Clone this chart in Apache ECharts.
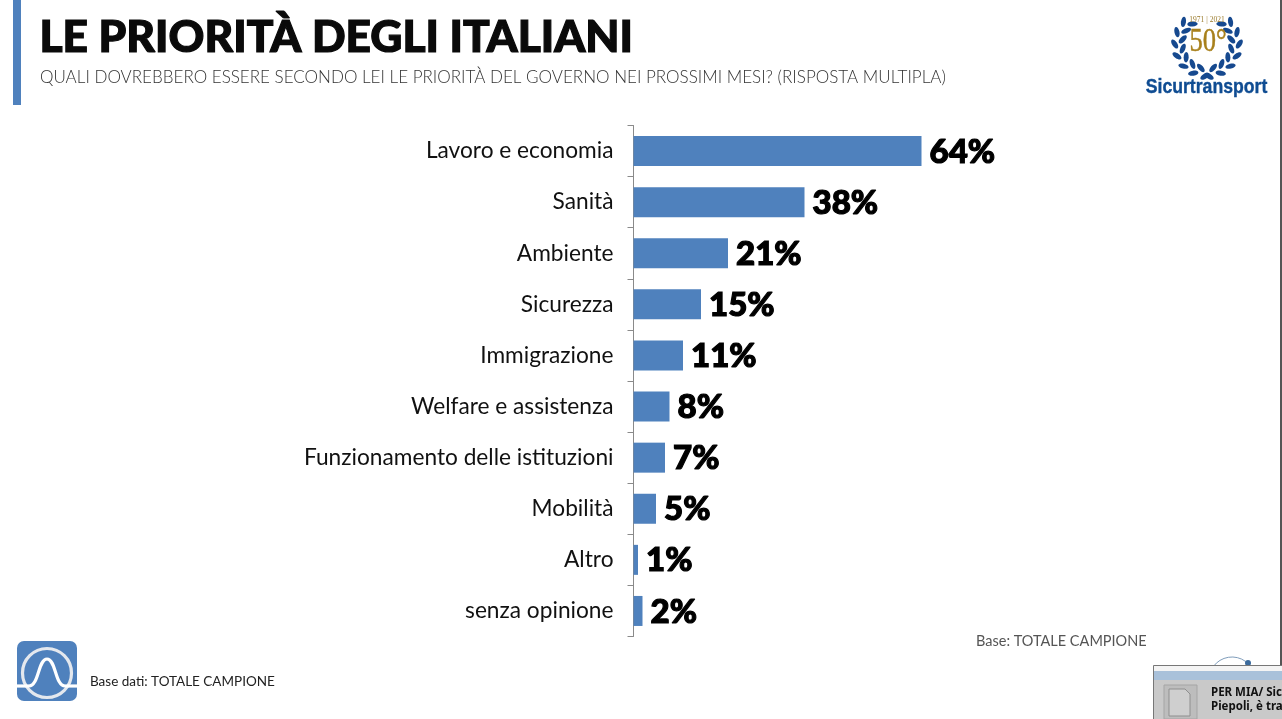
<!DOCTYPE html>
<html><head><meta charset="utf-8">
<style>html,body{margin:0;padding:0;background:#fff}#c{width:1282px;height:719px}</style>
<script src="https://cdn.jsdelivr.net/npm/echarts@6/dist/echarts.min.js"></script>
</head><body><div id="c"></div>
<script>
const categories = ["Lavoro e economia","Sanità","Ambiente","Sicurezza","Immigrazione","Welfare e assistenza","Funzionamento delle istituzioni","Mobilità","Altro","senza opinione"];
const values = [64,38,21,15,11,8,7,5,1,2];
const titleText = "LE PRIORITÀ DEGLI ITALIANI";
const subtitleText = "QUALI DOVREBBERO ESSERE SECONDO LEI LE PRIORITÀ DEL GOVERNO NEI PROSSIMI MESI? (RISPOSTA MULTIPLA)";
const BLUE = "#4f81bd";

function wreathLeaves(){
  const out=[];
  const cx=1207,cy=44,r=28.5;
  for(const side of [-1,1]){
    for(let i=0;i<14;i++){
      const a=(-54+i*10.8)*Math.PI/180;
      const off=i%2?3.8:-3.8;
      const x=cx+side*(r+off)*Math.cos(a), y=cy+(r+off)*Math.sin(a);
      const tilt=(i%2?0.6:-0.6);
      out.push({type:'ellipse',shape:{cx:0,cy:0,rx:2.5,ry:5.2},x:x,y:y,rotation:-side*(a+tilt),style:{fill:'#16498f'},z:5});
    }
  }
  return out;
}
const decor = [
  {type:'rect',shape:{x:13,y:0,width:8,height:105},style:{fill:BLUE}},
  {type:'text',x:40,y:78,style:{text:subtitleText,font:'300 17.05px Lato',fill:'#333',textVerticalAlign:'middle'}},
  {type:'rect',shape:{x:1280,y:0,width:2,height:665},style:{fill:'#555'}},
  {type:'text',x:976,y:641,style:{text:'Base: TOTALE CAMPIONE',font:'14.5px Lato',fill:'#555',textVerticalAlign:'middle'}},
  {type:'text',x:90,y:682,style:{text:'Base dati: TOTALE CAMPIONE',font:'13.5px Lato',fill:'#222',textVerticalAlign:'middle'}},
  {type:'rect',shape:{x:17,y:641,width:60,height:60,r:7},style:{fill:BLUE}},
  {type:'circle',shape:{cx:47,cy:673,r:24.5},style:{fill:'none',stroke:'#e4e8ee',lineWidth:3.2}},
  {type:'line',shape:{x1:17,y1:686,x2:29,y2:686},style:{stroke:'#fff',lineWidth:3.2}},
  {type:'line',shape:{x1:65,y1:686,x2:77,y2:686},style:{stroke:'#fff',lineWidth:3.2}},
  {type:'bezierCurve',shape:{x1:29,y1:686,cpx1:39,cpy1:686,cpx2:38,cpy2:659,x2:47,y2:659},style:{fill:'none',stroke:'#fff',lineWidth:3.2}},
  {type:'bezierCurve',shape:{x1:47,y1:659,cpx1:56,cpy1:659,cpx2:55,cpy2:686,x2:65,y2:686},style:{fill:'none',stroke:'#fff',lineWidth:3.2}},
  ...wreathLeaves(),
  {type:'text',x:1207,y:20,style:{text:'1971 | 2021',font:'7.5px "Liberation Serif"',fill:'#9a7a2a',textAlign:'center',textVerticalAlign:'middle'},z:6},
  {type:'text',x:1208,y:42,scaleX:0.78,style:{text:'50°',font:'34px "Liberation Serif"',fill:'#a8801c',textAlign:'center',textVerticalAlign:'middle',stroke:'#a8801c',lineWidth:0.5},z:6},
  {type:'text',x:1206.5,y:87,scaleX:0.84,style:{text:'Sicurtransport',font:'bold 21px "Liberation Sans"',fill:'#0f4c92',textAlign:'center',textVerticalAlign:'middle',stroke:'#0f4c92',lineWidth:0.4},z:6},
  {type:'arc',shape:{cx:1232,cy:680,r:23,startAngle:Math.PI*1.2,endAngle:Math.PI*1.8},style:{fill:'none',stroke:'#7f9dbb',lineWidth:1}},
  {type:'circle',shape:{cx:1248,cy:663,r:3},style:{fill:'#3b6a9c'}},
  {type:'rect',shape:{x:1153.5,y:665.5,width:129,height:54},style:{fill:'#f4f4f4',stroke:'#777',lineWidth:1},z:8},
  {type:'rect',shape:{x:1154,y:671,width:128,height:9},style:{fill:'#a9c1da'},z:9},
  {type:'rect',shape:{x:1154,y:680,width:128,height:39},style:{fill:'#c9c9c9'},z:9},
  {type:'rect',shape:{x:1164,y:685,width:33,height:34},style:{fill:'#bdbdbd',stroke:'#a5a5a5',lineWidth:1},z:10},
  {type:'polygon',shape:{points:[[1169,689],[1185,689],[1190,694],[1190,716],[1169,716]]},style:{fill:'#cfcfcf',stroke:'#8f8f8f',lineWidth:1},z:11},
  {type:'text',x:1211,y:693,style:{text:'PER MIA/ Sic',font:'bold 11.5px "Noto Sans"',fill:'#111',textVerticalAlign:'middle'},z:11},
  {type:'text',x:1211,y:707,style:{text:'Piepoli, è tra',font:'bold 11.5px "Noto Sans"',fill:'#111',textVerticalAlign:'middle'},z:11}
];
const chart = echarts.init(document.getElementById('c'),null,{renderer:'canvas'});
chart.setOption({
  animation:false,
  backgroundColor:'#fff',
  title:{text:titleText,left:39.5,top:16,padding:0,textStyle:{fontFamily:'Lato',fontWeight:900,fontSize:44.3,color:'#0a0a0a',textBorderColor:'#0a0a0a',textBorderWidth:1.2}},
  grid:{left:633.5,top:125.5,width:450,height:511,containLabel:false},
  xAxis:{type:'value',min:0,max:100,show:false},
  yAxis:{type:'category',data:categories,inverse:true,
    axisLine:{show:true,lineStyle:{color:'#8a8a8a',width:1}},
    axisTick:{show:true,length:6,alignWithLabel:false,lineStyle:{color:'#8a8a8a'}},
    axisLabel:{margin:20,fontFamily:'Lato',fontSize:22.7,color:'#111',verticalAlign:'middle',padding:[0,0,5,0]}},
  series:[{type:'bar',data:values,barWidth:30,itemStyle:{color:BLUE},
    label:{show:true,position:'right',distance:8,offset:[0,1],formatter:p=>p.value+'%',fontFamily:'Lato',fontWeight:900,fontSize:33,color:'#000',textBorderColor:'#000',textBorderWidth:1.2}}],
  graphic:decor
});
</script></body></html>
